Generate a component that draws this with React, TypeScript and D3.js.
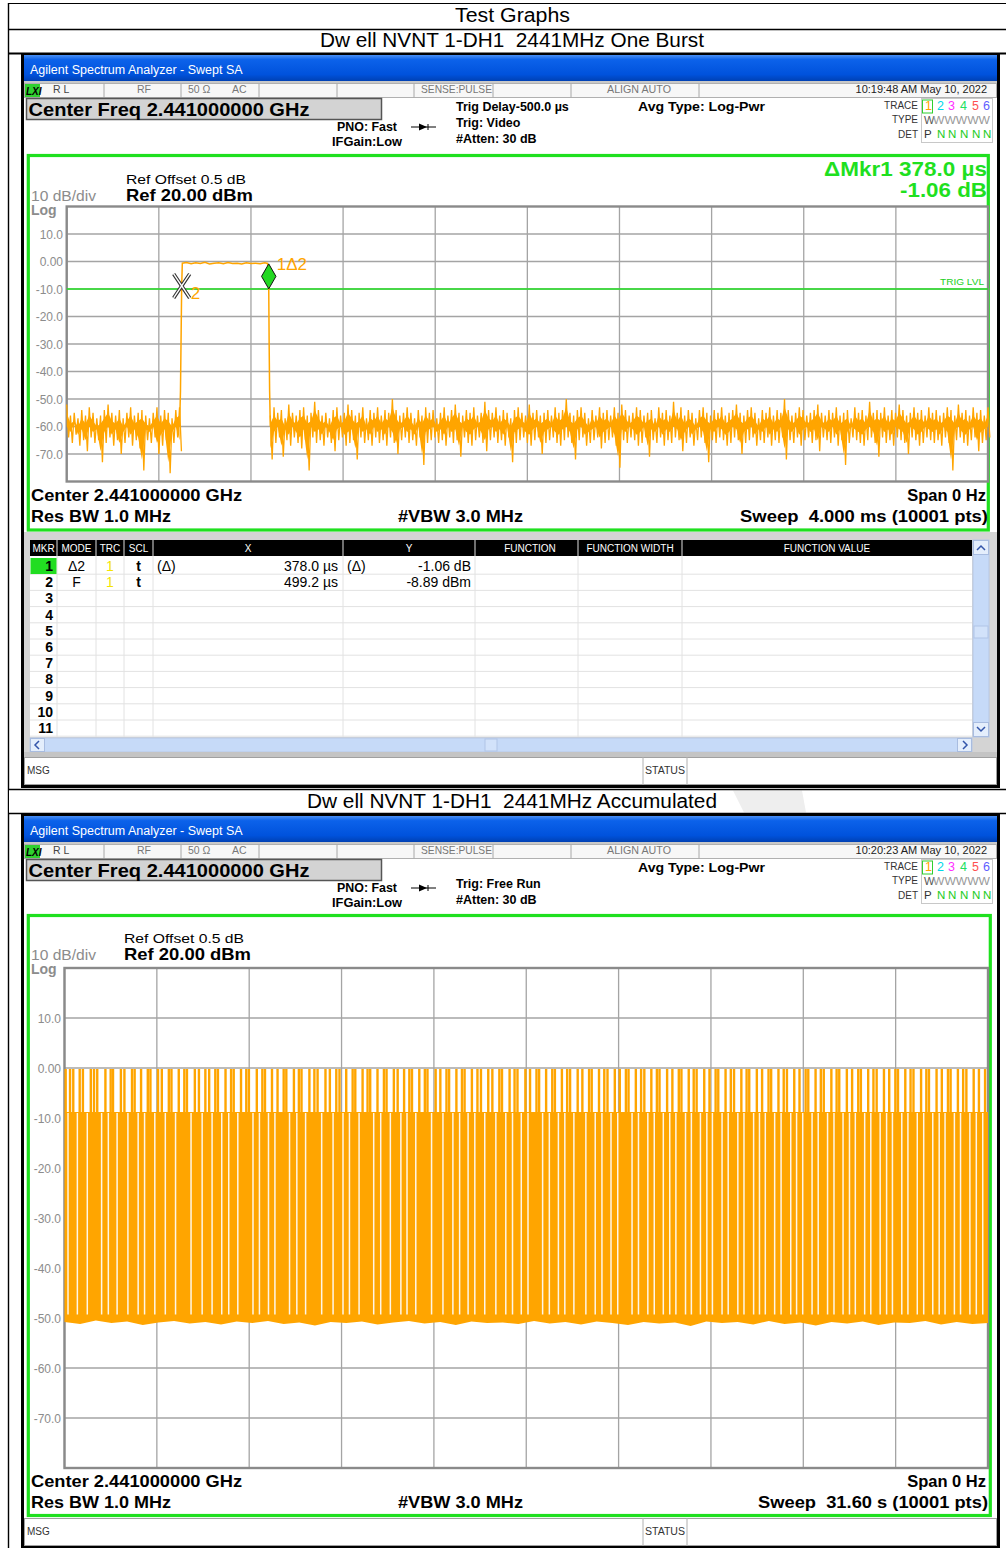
import React from 'react';
import * as d3 from 'd3';

const FONT = 'Liberation Sans, Arial, sans-serif';
const ORANGE = '#ffa500';
const GREEN = '#1fe01f';

// ---- page text ----
const pageTitle = 'Test Graphs';
const graphTitles = ['Dw ell NVNT 1-DH1  2441MHz One Burst', 'Dw ell NVNT 1-DH1  2441MHz Accumulated'];
const timestamps = ['10:19:48 AM May 10, 2022', '10:20:23 AM May 10, 2022'];
const trigTexts = [['Trig Delay-500.0 µs', 'Trig: Video', '#Atten: 30 dB'], ['', 'Trig: Free Run', '#Atten: 30 dB']];
const sweepTexts = ['Sweep  4.000 ms (10001 pts)', 'Sweep  31.60 s (10001 pts)'];

// ---- amplitude axis (dBm) ----
const refLevel = 20;
const bottomLevel = -80;
const yTickValues = [10, 0, -10, -20, -30, -40, -50, -60, -70];
const yTickLabels = ['10.0', '0.00', '-10.0', '-20.0', '-30.0', '-40.0', '-50.0', '-60.0', '-70.0'];
const trigLevel = -10;

// ---- one burst, time in µs ----
const sweepBurst = 4000;
const noiseASpan = [0, 490];
const noiseHiA = [-52, -56, -55, -57, -54, -56, -53, -55, -57, -56, -54, -52, -55, -56, -54, -57, -55, -53, -56, -55, -54, -56, -57, -55, -53, -56, -54, -55, -57, -54, -53];
const noiseLoA = [-64, -66, -63, -67, -65, -69, -64, -66, -65, -73, -66, -64, -67, -65, -70, -66, -64, -67, -65, -68, -76, -65, -66, -64, -70, -67, -65, -77, -66, -64, -69];
const noiseBSpan = [884, 4000];
const noiseHiB = [
  -56, -53, -55, -54, -57, -52, -55, -56, -54, -53, -56, -55, -51, -54, -56,
  -55, -57, -54, -53, -56, -55, -52, -54, -56, -55, -53, -57, -54, -55, -53,
  -56, -54, -55, -50, -54, -56, -55, -53, -55, -57, -54, -56, -53, -55, -54,
  -57, -55, -53, -56, -54, -52, -55, -56, -54, -55, -53, -56, -55, -51, -54,
  -55, -53, -56, -54, -55, -57, -54, -53, -55, -56, -52, -55, -54, -56, -55,
  -54, -56, -53, -55, -54, -50, -55, -56, -54, -53, -55, -57, -54, -56, -53,
  -55, -54, -56, -53, -55, -52, -54, -56, -55, -53, -54, -56, -55, -54, -57,
  -53, -55, -54, -56, -51, -55, -53, -56, -54, -55, -57, -54, -53, -55, -56,
  -54, -55, -53, -56, -55, -54, -52, -55, -56, -54, -53, -55, -57, -54, -55,
  -53, -56, -54, -55, -50, -54, -56, -55, -53, -54, -56, -55, -54, -52, -55,
  -56, -54, -55, -53, -56, -55, -54, -57, -53, -55, -54, -56, -51, -55, -54,
  -55, -53, -56, -54, -55, -52, -54, -56, -55, -53, -55, -54, -56, -53, -55,
  -54, -56, -55, -53, -54, -56, -52, -55, -54, -56, -53, -55, -54, -56, -53,
];
const noiseLoB = [
  -72, -66, -64, -71, -65, -67, -64, -66, -68, -65, -76, -64, -66, -65, -67,
  -64, -66, -69, -65, -64, -67, -66, -65, -72, -64, -66, -65, -67, -64, -66,
  -65, -67, -64, -66, -70, -65, -64, -66, -65, -67, -64, -74, -66, -65, -64,
  -66, -65, -67, -64, -66, -65, -71, -64, -66, -67, -65, -64, -66, -69, -65,
  -64, -66, -65, -67, -64, -73, -66, -65, -64, -66, -67, -65, -64, -70, -66,
  -65, -64, -66, -67, -65, -64, -66, -72, -65, -64, -67, -66, -65, -64, -68,
  -66, -65, -64, -67, -75, -65, -66, -64, -65, -67, -66, -64, -71, -65, -66,
  -64, -67, -65, -66, -64, -65, -69, -66, -64, -67, -65, -64, -66, -73, -65,
  -66, -64, -65, -67, -66, -64, -65, -70, -66, -65, -64, -67, -65, -66, -64,
  -67, -65, -66, -64, -72, -65, -66, -64, -67, -65, -64, -66, -65, -69, -64,
  -65, -66, -64, -67, -65, -74, -66, -64, -65, -66, -67, -65, -64, -66, -71,
  -64, -66, -65, -67, -64, -65, -66, -70, -64, -65, -67, -66, -64, -65, -66,
  -65, -67, -64, -66, -76, -65, -64, -66, -67, -65, -64, -69, -66, -65, -64,
];
const burstT = [490, 494, 497, 499.2, 502, 520, 540, 560, 580, 600, 620, 640, 660, 680, 700, 720, 740, 760, 780, 800, 820, 840, 860, 872, 875, 877.2, 879, 881, 884];
const burstV = [-60, -47, -25, -8.89, -0.6, -0.4, -0.8, -0.5, -0.7, -0.3, -0.9, -0.6, -0.5, -0.8, -0.4, -0.7, -0.6, -0.9, -0.5, -0.7, -0.6, -0.8, -0.5, -0.7, -4, -9.95, -30, -47, -60];
const mkr2 = { t: 499.2, v: -8.89 };
const mkr1 = { t: 877.2, v: -9.95 };

// ---- marker table ----
const mkrNumbers = ['1', '2', '3', '4', '5', '6', '7', '8', '9', '10', '11'];
const mkrMode = ['Δ2', 'F'];
const mkrTrc = ['1', '1'];
const mkrScl = ['t', 't'];
const mkrXRef = ['(Δ)', ''];
const mkrX = ['378.0 µs', '499.2 µs'];
const mkrYRef = ['(Δ)', ''];
const mkrY = ['-1.06 dB', '-8.89 dBm'];
const tableHeads = ['MKR', 'MODE', 'TRC', 'SCL', 'X', 'Y', 'FUNCTION', 'FUNCTION WIDTH', 'FUNCTION VALUE'];

// ---- accumulated, time in s ----
const sweepAcc = 31.6;
const bandTop = -8.8;
const spikeLevel = -0.2;
const floorLevels = [-50.8, -51.2, -50.5, -51.0, -50.7, -51.4, -50.9, -50.6, -51.1, -50.8, -51.3, -50.7, -51.0, -50.6, -51.2, -50.9, -51.5, -50.8, -51.0, -50.7, -51.3, -50.9, -50.6, -51.1, -50.8, -51.4, -50.7, -51.0, -50.9, -51.2, -50.6, -51.1, -50.8, -51.3, -50.7, -51.0, -51.4, -50.8, -51.1, -50.9, -51.6, -50.7, -51.0, -50.8, -51.3, -50.6, -51.2, -50.9, -51.5, -50.8, -51.1, -50.7, -51.4, -50.9, -51.0, -50.6, -51.3, -50.8, -51.2, -51.0];
const spikeTimes = [0.04, 0.19, 0.30, 0.52, 0.63, 0.90, 1.01, 1.12, 1.40, 1.58, 1.66, 1.93, 2.05, 2.31, 2.40, 2.62, 2.85, 2.94, 3.20, 3.33, 3.57, 3.66, 3.91, 4.10, 4.19, 4.46, 4.60, 4.82, 4.95, 5.16, 5.25, 5.51, 5.70, 5.79, 6.04, 6.22, 6.31, 6.58, 6.77, 6.86, 7.10, 7.29, 7.50, 7.59, 7.85, 8.02, 8.11, 8.38, 8.55, 8.66, 8.93, 9.08, 9.30, 9.41, 9.64, 9.86, 9.95, 10.20, 10.37, 10.46, 10.71, 10.93, 11.02, 11.27, 11.40, 11.62, 11.80, 11.89, 12.14, 12.33, 12.42, 12.70, 12.86, 13.07, 13.16, 13.41, 13.60, 13.69, 13.94, 14.13, 14.25, 14.50, 14.64, 14.88, 14.97, 15.23, 15.40, 15.50, 15.77, 15.93, 16.15, 16.24, 16.48, 16.69, 16.78, 17.02, 17.20, 17.30, 17.56, 17.72, 17.95, 18.04, 18.29, 18.47, 18.58, 18.83, 19.00, 19.21, 19.30, 19.55, 19.73, 19.84, 20.08, 20.27, 20.36, 20.62, 20.80, 21.02, 21.11, 21.36, 21.53, 21.63, 21.89, 22.07, 22.28, 22.37, 22.62, 22.80, 22.91, 23.16, 23.34, 23.43, 23.69, 23.87, 24.09, 24.18, 24.43, 24.61, 24.72, 24.97, 25.15, 25.36, 25.45, 25.70, 25.88, 25.98, 26.24, 26.42, 26.51, 26.77, 26.95, 27.16, 27.25, 27.50, 27.68, 27.79, 28.04, 28.22, 28.43, 28.52, 28.77, 28.95, 29.05, 29.31, 29.49, 29.58, 29.84, 30.02, 30.23, 30.32, 30.57, 30.75, 30.86, 31.11, 31.29, 31.50];
const gapTimes = [0.12, 0.44, 0.78, 1.27, 1.50, 1.80, 2.17, 2.52, 2.74, 3.09, 3.45, 3.80, 4.33, 4.71, 5.05, 5.38, 5.62, 5.93, 6.45, 6.67, 6.98, 7.20, 7.70, 7.95, 8.25, 8.80, 9.19, 9.53, 9.75, 10.08, 10.58, 10.82, 11.15, 11.51, 11.72, 12.02, 12.56, 12.95, 13.29, 13.52, 13.81, 14.04, 14.38, 14.76, 15.10, 15.33, 15.63, 15.86, 16.36, 16.59, 16.90, 17.12, 17.43, 17.84, 18.16, 18.39, 18.70, 18.93, 19.42, 19.64, 19.96, 20.18, 20.49, 20.71, 20.92, 21.25, 21.45, 21.76, 21.98, 22.17, 22.50, 22.71, 23.04, 23.25, 23.58, 23.78, 23.98, 24.30, 24.52, 24.85, 25.05, 25.26, 25.58, 25.79, 26.11, 26.33, 26.64, 26.86, 27.06, 27.38, 27.59, 27.91, 28.13, 28.33, 28.65, 28.86, 29.18, 29.40, 29.71, 29.93, 30.13, 30.45, 30.66, 30.98, 31.20, 31.42];

const T = ({ x, y, s = 12, w = 'normal', c = '#000', a = 'start', len, it, children }: any) => (
  <text x={x} y={y} fontSize={s} fontWeight={w} fill={c} textAnchor={a} fontStyle={it ? 'italic' : 'normal'}
    textLength={len} lengthAdjust={len ? 'spacingAndGlyphs' : undefined} style={{ whiteSpace: 'pre' }}>{children}</text>
);

const spanTimes = (span: number[], n: number) => d3.range(n).map(i => span[0] + (span[1] - span[0]) * i / (n - 1));

// the analyser draws consecutive samples as a zigzag: max of a bucket, then its min
const zigzag = (times: number[], hi: number[], lo: number[]) => {
  const half = (times[1] - times[0]) / 2;
  return times.flatMap((t, i) => [[t, hi[i]], [t + half, lo[i]]]);
};

function Header({ top, k }: { top: number; k: number }) {
  const cells = [104, 181, 259, 337, 414, 493, 571, 699];
  const traceColors = [ORANGE, '#00d8e8', '#ff30ff', '#20e060', '#ff5050', '#6060ff'];
  const colX = [925, 937, 948, 960, 972, 983];
  const ay = top + 72;
  return (
    <g>
      <rect x={24} y={top} width={973} height={26} fill="url(#titlebar)" />
      <T x={30} y={top + 19} s={12.5} c="#fff">Agilent Spectrum Analyzer - Swept SA</T>
      <rect x={24} y={top + 26} width={973} height={2} fill="#c8c8c8" />
      <rect x={24.5} y={top + 28.5} width={972} height={14} fill="#f7f7f7" stroke="#b0b0b0" />
      {cells.map(cx => <line key={cx} x1={cx} x2={cx} y1={top + 28.5} y2={top + 42.5} stroke="#a8a8a8" />)}
      <rect x={25} y={top + 29} width={15} height={13} fill="#2fd02f" />
      <T x={26} y={top + 39.5} s={10} w="bold" it>LXI</T>
      <T x={53} y={top + 38} s={10.5} c="#444">R L</T>
      <T x={137} y={top + 38} s={10.5} c="#777">RF</T>
      <T x={188} y={top + 38} s={10.5} c="#777">50 Ω</T>
      <T x={232} y={top + 38} s={10.5} c="#777">AC</T>
      <T x={421} y={top + 38} s={10.5} c="#777" len={71}>SENSE:PULSE</T>
      <T x={607} y={top + 38} s={10.5} c="#777" len={64}>ALIGN AUTO</T>
      <T x={987} y={top + 38} s={11} c="#222" a="end">{timestamps[k]}</T>

      <rect x={26.5} y={top + 43.5} width={355} height={21} fill="#d3d3d3" stroke="#555" strokeWidth={1.5} />
      <T x={28.5} y={top + 61} s={18} w="bold" len={281}>Center Freq 2.441000000 GHz</T>
      <T x={337} y={top + 76} s={12} w="bold" len={60}>PNO: Fast</T>
      <T x={332} y={top + 91} s={12} w="bold" len={70}>IFGain:Low</T>
      <line x1={411} x2={436} y1={ay} y2={ay} stroke="#000" />
      <path d={`M419,${ay - 3.5}L427,${ay}L419,${ay + 3.5}Z`} fill="#000" />
      <line x1={428} x2={428} y1={ay - 3} y2={ay + 3} stroke="#000" />
      {trigTexts[k].map((t, i) => t && <T key={i} x={456} y={top + 56 + i * 15.8} s={12.5} w="bold">{t}</T>)}
      <T x={638} y={top + 56} s={13.5} w="bold" len={127}>Avg Type: Log-Pwr</T>

      <rect x={921.5} y={top + 43.5} width={71} height={44} fill="#fff" stroke="#c8c8c8" />
      <rect x={922.5} y={top + 45} width={10} height={13} fill="none" stroke="#2fd02f" />
      <T x={918} y={top + 54} s={10} a="end" c="#333">TRACE</T>
      <T x={918} y={top + 68} s={10} a="end" c="#333">TYPE</T>
      <T x={918} y={top + 83} s={10} a="end" c="#333">DET</T>
      {colX.map((cx, i) => <T key={i} x={cx} y={top + 55} s={12.5} c={traceColors[i]}>{String(i + 1)}</T>)}
      <T x={924} y={top + 69} s={11} c="#555">W</T>
      <T x={933} y={top + 69} s={10} c="#999" len={57}>WWWWW</T>
      <T x={924} y={top + 83} s={11.5} c="#333">P</T>
      {colX.slice(1).map(cx => <T key={cx} x={cx} y={top + 83} s={11.5} c="#22cc22">N</T>)}
    </g>
  );
}

function Grid({ x, y, sweep, labelX }: any) {
  const [x0, x1] = x.range();
  const [y1, y0] = y.range();
  const divX = d3.range(11).map(i => x(sweep * i / 10));
  return (
    <g>
      <rect x={x0} y={y0} width={x1 - x0} height={y1 - y0} fill="#fff" />
      {divX.map((gx, i) => <line key={'v' + i} x1={gx} x2={gx} y1={y0} y2={y1} stroke="#a4a4a4" strokeWidth={1.3} />)}
      {yTickValues.map(v => <line key={'h' + v} x1={x0} x2={x1} y1={y(v)} y2={y(v)} stroke="#a4a4a4" strokeWidth={1.3} />)}
      <rect x={x0} y={y0} width={x1 - x0} height={y1 - y0} fill="none" stroke="#8a8a8a" strokeWidth={2.4} />
      {yTickValues.map((v, i) => <T key={'l' + v} x={labelX} y={y(v) + 4.5} s={12} c="#8c8c8c" a="end">{yTickLabels[i]}</T>)}
    </g>
  );
}

function PlotLabels({ top, refX, bottomY, k }: any) {
  return (
    <g>
      <T x={refX} y={top + 29} s={13} len={120}>Ref Offset 0.5 dB</T>
      <T x={refX} y={top + 46} s={16.5} w="bold" len={127}>Ref 20.00 dBm</T>
      <T x={31} y={top + 46} s={14} c="#8c8c8c" len={65}>10 dB/div</T>
      <T x={31} y={top + 60} s={14} w="bold" c="#8c8c8c">Log</T>
      <T x={31} y={bottomY} s={16.5} w="bold" len={211}>Center 2.441000000 GHz</T>
      <T x={31} y={bottomY + 21} s={16.5} w="bold" len={140}>Res BW 1.0 MHz</T>
      <T x={398} y={bottomY + 21} s={16.5} w="bold" len={125}>#VBW 3.0 MHz</T>
      <T x={986} y={bottomY} s={16.5} w="bold" a="end">Span 0 Hz</T>
      <T x={988} y={bottomY + 21} s={16.5} w="bold" a="end" len={k === 0 ? 248 : 230}>{sweepTexts[k]}</T>
    </g>
  );
}

function BurstPlot() {
  const x = d3.scaleLinear().domain([0, sweepBurst]).range([66.7, 988]);
  const y = d3.scaleLinear().domain([bottomLevel, refLevel]).range([481.5, 206.5]);
  const tA = spanTimes(noiseASpan, noiseHiA.length);
  const tB = spanTimes(noiseBSpan, noiseHiB.length);
  const trace = d3.line<number[]>().x(d => x(d[0])).y(d => y(d[1]));
  const areaA = d3.area<number>().x((_, i) => x(tA[i])).y0((_, i) => y(noiseLoA[i] + 4)).y1(v => y(v - 3));
  const areaB = d3.area<number>().x((_, i) => x(tB[i])).y0((_, i) => y(noiseLoB[i] + 4)).y1(v => y(v - 3));
  const burst = d3.line<number>().x((_, i) => x(burstT[i])).y(v => y(v));
  const m2x = x(mkr2.t), m2y = y(mkr2.v);
  const m1x = x(mkr1.t), m1y = y(mkr1.v);
  const xPath = `M${m2x - 8},${m2y - 12}L${m2x + 8},${m2y + 12}M${m2x + 8},${m2y - 12}L${m2x - 8},${m2y + 12}`;
  return (
    <g>
      <rect x={28.3} y={155.5} width={960} height={374.5} fill="#fff" stroke={GREEN} strokeWidth={3.2} />
      <PlotLabels top={155} refX={126} bottomY={500.5} k={0} />
      <T x={987} y={176} s={21} w="bold" c={GREEN} a="end" len={163}>ΔMkr1 378.0 µs</T>
      <T x={987} y={196.5} s={21} w="bold" c={GREEN} a="end" len={87}>-1.06 dB</T>
      <Grid x={x} y={y} sweep={sweepBurst} labelX={63} />
      <line x1={x(0)} x2={x(sweepBurst)} y1={y(trigLevel)} y2={y(trigLevel)} stroke="#22e022" strokeWidth={1.4} />
      <T x={984} y={285} s={9.5} c="#22d022" a="end" len={44}>TRIG LVL</T>
      <path d={areaA(noiseHiA) || ''} fill={ORANGE} />
      <path d={areaB(noiseHiB) || ''} fill={ORANGE} />
      <path d={trace(zigzag(tA, noiseHiA, noiseLoA)) || ''} fill="none" stroke={ORANGE} strokeWidth={1.3} />
      <path d={trace(zigzag(tB, noiseHiB, noiseLoB)) || ''} fill="none" stroke={ORANGE} strokeWidth={1.3} />
      <path d={burst(burstV) || ''} fill="none" stroke={ORANGE} strokeWidth={1.5} />
      <path d={xPath} stroke="#333" strokeWidth={3.6} fill="none" />
      <path d={xPath} stroke="#fff" strokeWidth={1.4} fill="none" />
      <T x={m2x + 9} y={m2y + 13} s={17} c={ORANGE}>2</T>
      <path d={`M${m1x},${m1y}L${m1x + 7.2},${m1y - 12.5}L${m1x},${m1y - 25}L${m1x - 7.2},${m1y - 12.5}Z`} fill="#22d822" stroke="#111" strokeWidth={1} />
      <T x={m1x + 8} y={m1y - 19} s={17} c={ORANGE}>1Δ2</T>
    </g>
  );
}

function MarkerTable() {
  const cols = [30, 57, 96, 124, 153, 343, 475, 578, 682, 972];
  const headX = [43.5, 76.5, 110, 138.5, 248, 409, 530, 630, 827];
  const rowTop = (i: number) => 558 + i * 16.2;
  return (
    <g>
      <rect x={24} y={532} width={973} height={224} fill="#d4d4d4" />
      <rect x={30} y={540} width={942} height={197} fill="#fff" />
      <rect x={30} y={540} width={942} height={16} fill="#000" />
      {cols.slice(1, -1).map(cx => <line key={cx} x1={cx} x2={cx} y1={540} y2={556} stroke="#bbb" strokeWidth={1.2} />)}
      {tableHeads.map((h, i) => <T key={h} x={headX[i]} y={552} s={10} c="#fff" a="middle">{h}</T>)}
      {mkrNumbers.map((_, i) => <line key={'r' + i} x1={30} x2={972} y1={rowTop(i + 1)} y2={rowTop(i + 1)} stroke="#e2e2e2" />)}
      {cols.slice(1, -1).map(cx => <line key={'c' + cx} x1={cx} x2={cx} y1={556} y2={737} stroke="#e2e2e2" />)}
      <rect x={30.5} y={558} width={26} height={16} fill="#22dd22" />
      {mkrNumbers.map((n, i) => <T key={n} x={53} y={rowTop(i) + 13} s={14} w="bold" a="end">{n}</T>)}
      {mkrMode.map((m, i) => (
        <g key={'m' + i}>
          <T x={76.5} y={rowTop(i) + 13} s={14} a="middle">{m}</T>
          <T x={110} y={rowTop(i) + 13} s={14} a="middle" c="#f4e400">{mkrTrc[i]}</T>
          <T x={138.5} y={rowTop(i) + 13} s={14} w="bold" a="middle">{mkrScl[i]}</T>
          <T x={157} y={rowTop(i) + 13} s={14}>{mkrXRef[i]}</T>
          <T x={338} y={rowTop(i) + 13} s={14} a="end">{mkrX[i]}</T>
          <T x={347} y={rowTop(i) + 13} s={14}>{mkrYRef[i]}</T>
          <T x={471} y={rowTop(i) + 13} s={14} a="end">{mkrY[i]}</T>
        </g>
      ))}
      {/* vertical scrollbar */}
      <rect x={973} y={540} width={16} height={197} fill="#c6daf8" stroke="#b8c8e4" />
      <rect x={973.5} y={540.5} width={15} height={14} fill="#e4eefc" stroke="#a8bce0" />
      <path d="M977,550L981,546L985,550" stroke="#3355aa" strokeWidth={1.5} fill="none" />
      <rect x={973.5} y={722.5} width={15} height={14} fill="#e4eefc" stroke="#a8bce0" />
      <path d="M977,727L981,731L985,727" stroke="#3355aa" strokeWidth={1.5} fill="none" />
      <rect x={974} y={626} width={14} height={12} fill="#d2e2fa" stroke="#b0c4e6" />
      {/* horizontal scrollbar */}
      <rect x={30} y={738} width={942} height={14} fill="#c6daf8" stroke="#b8c8e4" />
      <rect x={30.5} y={738.5} width={14} height={13} fill="#e4eefc" stroke="#a8bce0" />
      <path d="M39,741L35,745L39,749" stroke="#3355aa" strokeWidth={1.5} fill="none" />
      <rect x={957.5} y={738.5} width={14} height={13} fill="#e4eefc" stroke="#a8bce0" />
      <path d="M963,741L967,745L963,749" stroke="#3355aa" strokeWidth={1.5} fill="none" />
      <rect x={485} y={739} width={12} height={12} fill="#d2e2fa" stroke="#b0c4e6" />
    </g>
  );
}

function MsgBar({ top }: { top: number }) {
  return (
    <g>
      <rect x={24.5} y={top + 0.5} width={972} height={27} fill="#fff" stroke="#a0a0a0" />
      <T x={27} y={top + 17} s={10} c="#333">MSG</T>
      <line x1={643} x2={643} y1={top} y2={top + 28} stroke="#b0b0b0" />
      <line x1={687} x2={687} y1={top} y2={top + 28} stroke="#b0b0b0" />
      <T x={645} y={top + 17} s={10} c="#333" len={40}>STATUS</T>
    </g>
  );
}

function AccPlot() {
  const x = d3.scaleLinear().domain([0, sweepAcc]).range([64.5, 988]);
  const y = d3.scaleLinear().domain([bottomLevel, refLevel]).range([1468, 968]);
  const fT = spanTimes([0, sweepAcc], floorLevels.length);
  const band = d3.area<number>().x((_, i) => x(fT[i])).y0(v => y(v)).y1(() => y(bandTop));
  return (
    <g>
      <rect x={28.3} y={915.5} width={962} height={600} fill="#fff" stroke={GREEN} strokeWidth={3.2} />
      <PlotLabels top={914} refX={124} bottomY={1486.5} k={1} />
      <Grid x={x} y={y} sweep={sweepAcc} labelX={61} />
      <path d={band(floorLevels) || ''} fill={ORANGE} />
      {gapTimes.map(t => <line key={'g' + t} x1={x(t)} x2={x(t)} y1={y(bandTop) + 1} y2={y(-49.3)} stroke="#fff" strokeWidth={1.5} opacity={0.9} />)}
      {spikeTimes.map(t => <line key={'s' + t} x1={x(t)} x2={x(t)} y1={y(bandTop)} y2={y(spikeLevel)} stroke={ORANGE} strokeWidth={2.4} />)}
    </g>
  );
}

export default function App() {
  return (
    <div style={{ position: 'absolute', left: 0, top: 0, width: 1006, height: 1548, background: '#fff' }}>
      <svg width={1006} height={1548} viewBox="0 0 1006 1548" style={{ display: 'block' }} fontFamily={FONT}>
        <defs>
          <linearGradient id="titlebar" x1="0" y1="0" x2="0" y2="1">
            <stop offset="0" stopColor="#4b90f4" />
            <stop offset="0.18" stopColor="#0c62ea" />
            <stop offset="0.75" stopColor="#0052dc" />
            <stop offset="1" stopColor="#0041b4" />
          </linearGradient>
        </defs>
        {/* page table */}
        <line x1={8} x2={1006} y1={3.5} y2={3.5} stroke="#000" />
        <line x1={8} x2={1006} y1={29.5} y2={29.5} stroke="#000" strokeWidth={1.4} />
        <line x1={8} x2={1006} y1={53.5} y2={53.5} stroke="#000" strokeWidth={1.8} />
        <line x1={8.5} x2={8.5} y1={3} y2={1548} stroke="#000" strokeWidth={1.4} />
        <T x={512.5} y={22} s={20} a="middle" len={115}>{pageTitle}</T>
        <T x={512} y={47} s={20} a="middle" len={384}>{graphTitles[0]}</T>

        {/* screenshot 1 */}
        <rect x={21} y={54} width={979} height={734} fill="#000" />
        <rect x={24} y={55} width={973} height={730} fill="#fff" />
        <Header top={55} k={0} />
        <MarkerTable />
        <BurstPlot />
        <rect x={24} y={752} width={973} height={5} fill="#c4c4c4" />
        <MsgBar top={757} />

        {/* second title row */}
        <rect x={9} y={789} width={997} height={24} fill="#fff" />
        <path d="M733,790.5L802,790.5L806,812.5L744,812.5Z" fill="#eeeeee" />
        <line x1={8} x2={1006} y1={789.5} y2={789.5} stroke="#000" strokeWidth={1.4} />
        <line x1={8} x2={1006} y1={813.5} y2={813.5} stroke="#000" strokeWidth={1.4} />
        <T x={512} y={808} s={20} a="middle" len={410}>{graphTitles[1]}</T>

        {/* screenshot 2 */}
        <rect x={21} y={814} width={979} height={734} fill="#000" />
        <rect x={24} y={816} width={973} height={729} fill="#fff" />
        <Header top={816} k={1} />
        <AccPlot />
        <MsgBar top={1518} />
      </svg>
    </div>
  );
}
